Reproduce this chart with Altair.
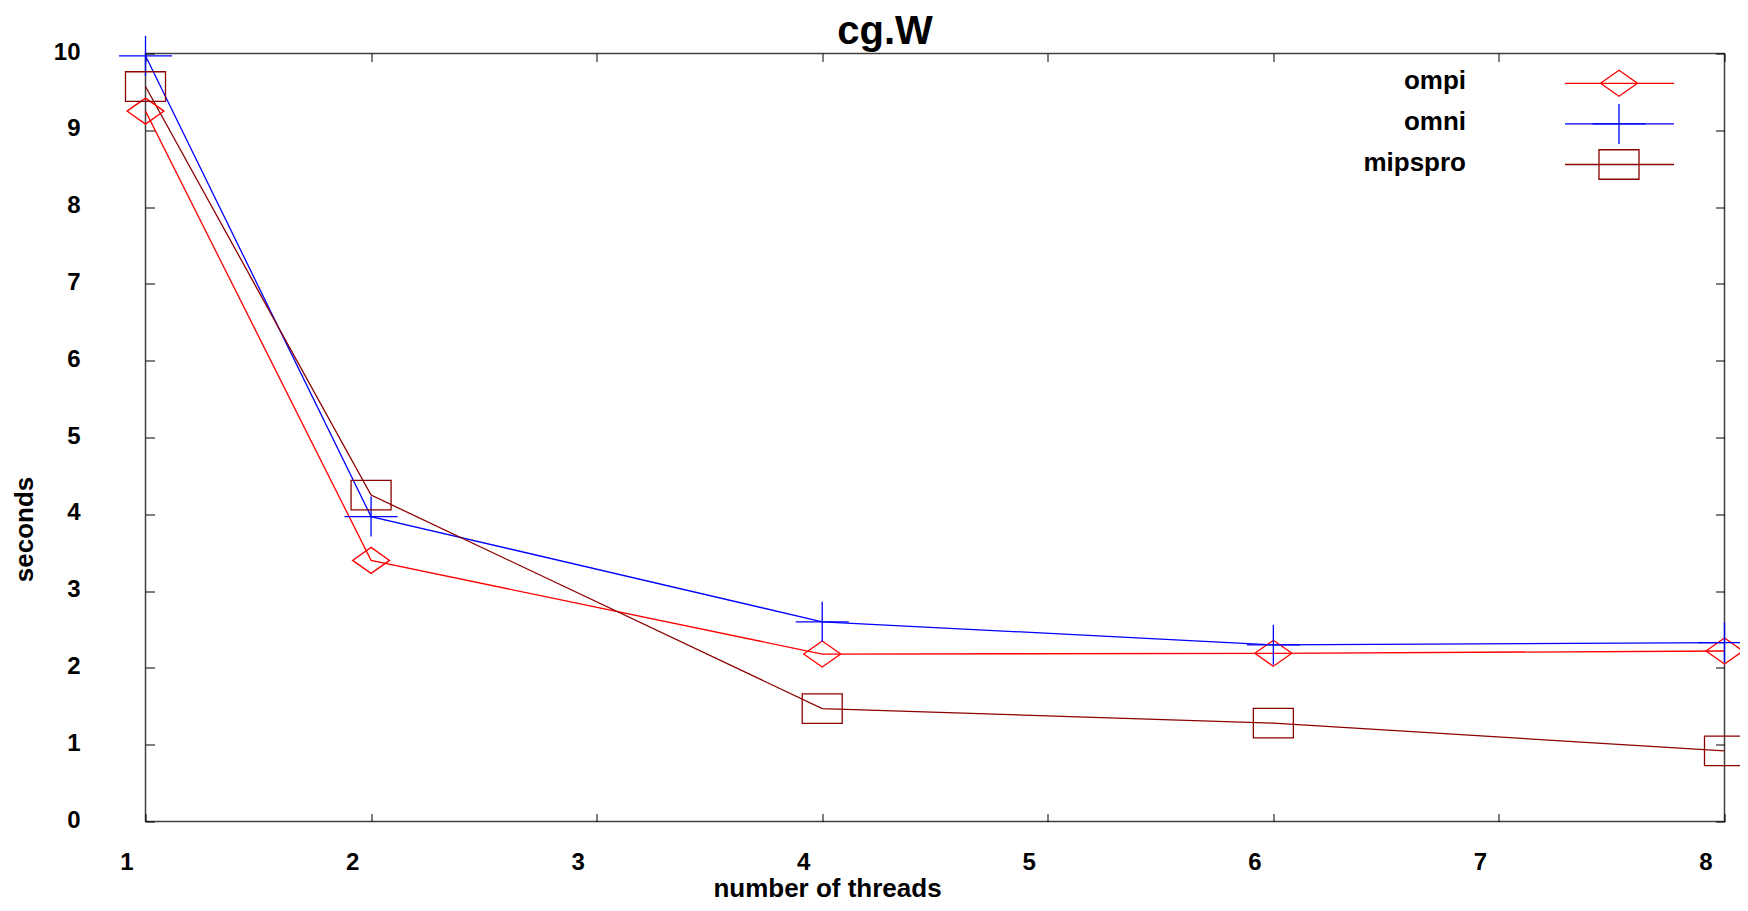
import altair as alt
import pandas as pd

# ---- data ----
threads = [1, 2, 4, 6, 8]
ompi = [9.25, 3.40, 2.18, 2.19, 2.22]
omni = [9.97, 3.97, 2.60, 2.30, 2.33]
mipspro = [9.57, 4.25, 1.47, 1.28, 0.92]
series_names = ["ompi", "omni", "mipspro"]
series_colors = ["#ff0000", "#0000ff", "#8b0000"]
x_ticks = [1, 2, 3, 4, 5, 6, 7, 8]
y_ticks = [0, 1, 2, 3, 4, 5, 6, 7, 8, 9, 10]
chart_title = ["cg.W"]

rows = []
for name, vals in zip(series_names, [ompi, omni, mipspro]):
    for t, v in zip(threads, vals):
        rows.append({"threads": t, "seconds": v, "series": name})
df = pd.DataFrame(rows)
legend_df = pd.DataFrame({"series": series_names})
title_df = pd.DataFrame({"title": chart_title})

# ---- marker shapes (unit box, scaled by sqrt(size)/2) ----
DIAMOND = "M0,-0.49L0.698,0L0,0.49L-0.698,0Z"
SQUARE = "M-0.755,-0.557L0.755,-0.557L0.755,0.557L-0.755,0.557Z"
CROSS = "M-1,0L1,0M0,-0.755L0,0.755"
shapes = [DIAMOND, CROSS, SQUARE]
MARK_SIZE = 2809

W, H = 1579, 768
FONT = "Liberation Sans"

xs = alt.Scale(domain=[1, 8], nice=False, zero=False)
ys = alt.Scale(domain=[0, 10], nice=False, zero=False)
color = alt.Color("series:N", scale=alt.Scale(domain=series_names, range=series_colors), legend=None)
shape = alt.Shape("series:N", scale=alt.Scale(domain=series_names, range=shapes), legend=None)

common = dict(grid=False, domain=False, labelFlush=False, labelOverlap=False)

ax_x_lab = alt.Axis(orient="bottom", values=x_ticks, ticks=False, tickSize=0,
                    labelPadding=47.7, labelBaseline="alphabetic", labelOffset=-19,
                    labelFontSize=24, labelFontWeight="bold", labelColor="black", format="d",
                    title="number of threads", titleFontSize=26, titleFontWeight="bold",
                    titleColor="black", titleX=681.5, titleY=75.4, titleBaseline="alphabetic",
                    titleAlign="center", **common)
ax_y_lab = alt.Axis(orient="left", values=y_ticks, ticks=False, tickSize=0,
                    labelPadding=65.5, labelBaseline="middle", labelAlign="right", labelOffset=-1.5,
                    labelFontSize=24, labelFontWeight="bold", labelColor="black", format="d",
                    title="seconds", titleFontSize=26, titleFontWeight="bold",
                    titleColor="black", titleAngle=270, titleX=-113.5, titleY=475.5,
                    titleBaseline="alphabetic", titleAlign="center", **common)
ax_x_bot = alt.Axis(orient="bottom", offset=-8, values=x_ticks, ticks=True, tickSize=8,
                    tickColor="black", labels=False, title=None, **common)
ax_x_top = alt.Axis(orient="top", offset=-8, values=x_ticks, ticks=True, tickSize=8,
                    tickColor="black", labels=False, title=None, **common)
ax_y_left = alt.Axis(orient="left", offset=-9, values=y_ticks, ticks=True, tickSize=9,
                     tickColor="black", labels=False, title=None, **common)
ax_y_right = alt.Axis(orient="right", offset=-9, values=y_ticks, ticks=True, tickSize=9,
                      tickColor="black", labels=False, title=None, **common)

lines = alt.Chart(df).mark_line(strokeWidth=1.3).encode(
    x=alt.X("threads:Q", scale=xs, axis=ax_x_lab),
    y=alt.Y("seconds:Q", scale=ys, axis=ax_y_lab),
    color=color,
)
points = alt.Chart(df).mark_point(filled=False, size=MARK_SIZE, strokeWidth=1.3, opacity=1).encode(
    x=alt.X("threads:Q", scale=xs, axis=ax_x_bot),
    y=alt.Y("seconds:Q", scale=ys, axis=ax_y_left),
    color=color,
    shape=shape,
)
ghost = alt.Chart(df).mark_point(opacity=0).encode(
    x=alt.X("threads:Q", scale=xs, axis=ax_x_top),
    y=alt.Y("seconds:Q", scale=ys, axis=ax_y_right),
)
inner = alt.layer(lines, points, ghost).resolve_axis(x="independent", y="independent")

# ---- legend (top right, label left of sample) ----
leg_y = alt.Y("series:N", scale=alt.Scale(type="point", domain=series_names, range=[29.8, 111], padding=0),
              axis=None)
leg_rule = alt.Chart(legend_df).mark_rule(strokeWidth=1.3).encode(
    x=alt.value(1419.5), x2=alt.value(1528.5), y=leg_y, color=color)
leg_pt = alt.Chart(legend_df).mark_point(filled=False, size=MARK_SIZE, strokeWidth=1.3, opacity=1).encode(
    x=alt.value(1473.5), y=leg_y, color=color, shape=shape)
leg_text = alt.Chart(legend_df).mark_text(align="right", baseline="alphabetic", dy=6, fontSize=26,
                                          fontWeight="bold", color="black").encode(
    x=alt.value(1320.5), y=leg_y, text="series:N")

# ---- chart title ----
title_text = alt.Chart(title_df).mark_text(align="center", baseline="alphabetic", fontSize=40,
                                           fontWeight="bold", color="black").encode(
    x=alt.value(739.5), y=alt.value(-9.5), text="title:N")

overlay = alt.layer(leg_rule, leg_pt, leg_text, title_text)

chart = alt.layer(inner, overlay).resolve_scale(y="independent").resolve_axis(
    x="independent", y="independent"
).properties(
    width=W, height=H,
    padding={"left": 137.5, "top": 45.5, "right": 15, "bottom": 81},
    autosize=alt.AutoSizeParams(type="none"),
).configure(font=FONT).configure_view(stroke="#404040", strokeWidth=1.5)

chart.save("out.html", embed_options={"renderer": "svg", "actions": False})
